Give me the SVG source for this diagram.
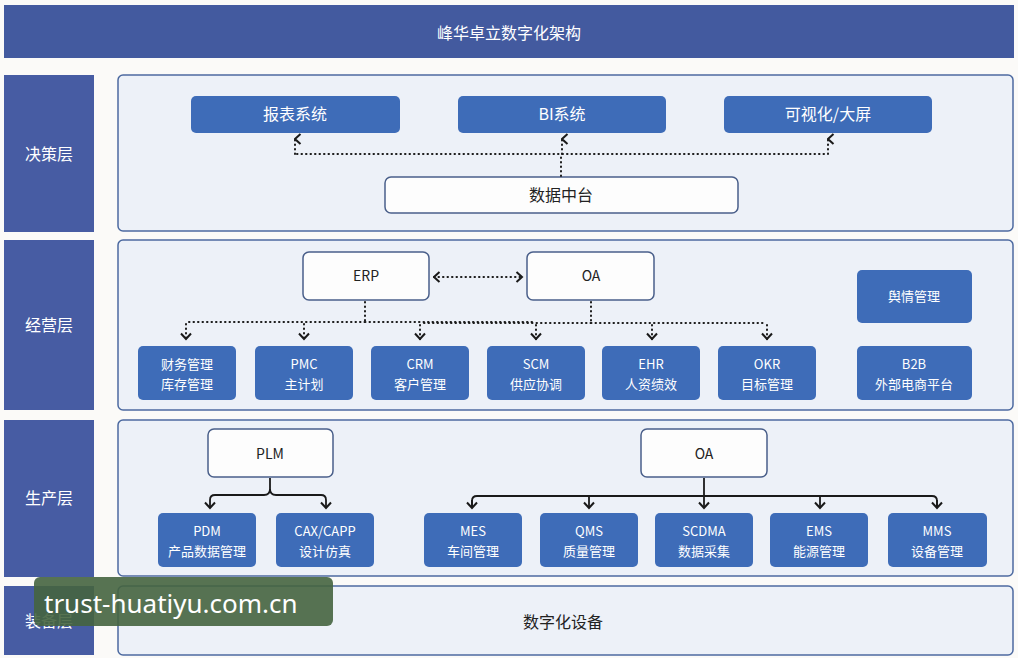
<svg xmlns="http://www.w3.org/2000/svg" width="1018" height="658" viewBox="0 0 1018 658">
<defs>
<style>
.t{font-family:"Noto Sans CJK SC","Noto Sans",sans-serif;}
.title{fill:#fff;font-size:16px;}
.lab{fill:#fff;font-size:16px;}
.panel{fill:#edf1f8;stroke:#4d6aa0;stroke-width:1.5;}
.side{fill:#475ca3;}
.btn{fill:#3e6cb8;}
.btxt{fill:#fff;font-size:16px;}
.sub{fill:#fff;font-size:13px;}
.wbox{fill:#fdfdfd;stroke:#4a5f8a;stroke-width:1.5;}
.wtxt{fill:#222;font-size:14px;}
.dot{fill:none;stroke:#1a1a1a;stroke-width:2;stroke-dasharray:0.5 4;stroke-linecap:round;}
.sol{fill:none;stroke:#1a1a1a;stroke-width:1.8;}
</style>
<marker id="ah" viewBox="0 0 12 10" refX="6" refY="1.5" markerWidth="12" markerHeight="10" markerUnits="userSpaceOnUse" orient="auto-start-reverse">
<path d="M1,7 L6,1.5 L11,7" fill="none" stroke="#1a1a1a" stroke-width="2"/>
</marker>
<marker id="ad" viewBox="0 0 12 10" refX="6" refY="8.5" markerWidth="12" markerHeight="10" markerUnits="userSpaceOnUse" orient="0">
<path d="M1,3 L6,8.5 L11,3" fill="none" stroke="#1a1a1a" stroke-width="2"/>
</marker>
<marker id="al" viewBox="0 0 10 12" refX="1.5" refY="6" markerWidth="10" markerHeight="12" markerUnits="userSpaceOnUse" orient="0">
<path d="M7,1 L1.5,6 L7,11" fill="none" stroke="#1a1a1a" stroke-width="2"/>
</marker>
<marker id="ar" viewBox="0 0 10 12" refX="8.5" refY="6" markerWidth="10" markerHeight="12" markerUnits="userSpaceOnUse" orient="0">
<path d="M3,1 L8.5,6 L3,11" fill="none" stroke="#1a1a1a" stroke-width="2"/>
</marker>
</defs>
<rect width="1018" height="658" fill="#fbfaf8"/>

<g id="title">
<rect x="4" y="5" width="1010" height="53" fill="#435a9f"/>
<text class="t title" x="509" y="39" text-anchor="middle">峰华卓立数字化架构</text>
</g>

<g id="layer-decision">
<rect class="side" x="4" y="75" width="90" height="157"/>
<text class="t lab" x="49" y="160" text-anchor="middle">决策层</text>
<rect class="panel" x="118" y="75" width="895" height="156" rx="5"/>
</g>
<g id="layer-business">
<rect class="side" x="4" y="240" width="90" height="170"/>
<text class="t lab" x="49" y="331" text-anchor="middle">经营层</text>
<rect class="panel" x="118" y="240" width="895" height="170" rx="5"/>
</g>
<g id="layer-production">
<rect class="side" x="4" y="420" width="90" height="157"/>
<text class="t lab" x="49" y="504" text-anchor="middle">生产层</text>
<rect class="panel" x="118" y="420" width="895" height="156" rx="5"/>
</g>
<g id="layer-equipment">
<rect class="side" x="4" y="586" width="90" height="69"/>
<text class="t lab" x="49" y="627" text-anchor="middle">装备层</text>
<rect class="panel" x="118" y="586" width="895" height="69" rx="5"/>
<text class="t" x="563" y="628" text-anchor="middle" font-size="16" fill="#222">数字化设备</text>
</g>

<g id="n-report"><rect class="btn" x="191" y="96" width="209" height="37" rx="5"/><text class="t btxt" x="295" y="120" text-anchor="middle">报表系统</text></g>
<g id="n-bi"><rect class="btn" x="458" y="96" width="208" height="37" rx="5"/><text class="t btxt" x="562" y="120" text-anchor="middle">BI系统</text></g>
<g id="n-vis"><rect class="btn" x="724" y="96" width="208" height="37" rx="5"/><text class="t btxt" x="828" y="120" text-anchor="middle">可视化/大屏</text></g>
<g id="n-datahub"><rect class="wbox" x="385" y="177" width="353" height="36" rx="6"/><text class="t" x="561" y="201" text-anchor="middle" font-size="16" fill="#222">数据中台</text></g>

<g id="n-erp"><rect class="wbox" x="303" y="252" width="126" height="48" rx="6"/><text class="t wtxt" x="366" y="281" text-anchor="middle">ERP</text></g>
<g id="n-oa1"><rect class="wbox" x="527" y="252" width="127" height="48" rx="6"/><text class="t wtxt" x="591" y="281" text-anchor="middle">OA</text></g>
<g id="n-yq"><rect class="btn" x="857" y="270" width="115" height="53" rx="5"/><text class="t sub" x="914" y="301" text-anchor="middle">舆情管理</text></g>
<g id="n-cw"><rect class="btn" x="138" y="346" width="98" height="54" rx="5"/><text class="t sub" x="187" y="369" text-anchor="middle">财务管理</text><text class="t sub" x="187" y="389" text-anchor="middle">库存管理</text></g>
<g id="n-pmc"><rect class="btn" x="255" y="346" width="98" height="54" rx="5"/><text class="t sub" x="304" y="369" text-anchor="middle">PMC</text><text class="t sub" x="304" y="389" text-anchor="middle">主计划</text></g>
<g id="n-crm"><rect class="btn" x="371" y="346" width="98" height="54" rx="5"/><text class="t sub" x="420" y="369" text-anchor="middle">CRM</text><text class="t sub" x="420" y="389" text-anchor="middle">客户管理</text></g>
<g id="n-scm"><rect class="btn" x="487" y="346" width="98" height="54" rx="5"/><text class="t sub" x="536" y="369" text-anchor="middle">SCM</text><text class="t sub" x="536" y="389" text-anchor="middle">供应协调</text></g>
<g id="n-ehr"><rect class="btn" x="602" y="346" width="98" height="54" rx="5"/><text class="t sub" x="651" y="369" text-anchor="middle">EHR</text><text class="t sub" x="651" y="389" text-anchor="middle">人资绩效</text></g>
<g id="n-okr"><rect class="btn" x="718" y="346" width="98" height="54" rx="5"/><text class="t sub" x="767" y="369" text-anchor="middle">OKR</text><text class="t sub" x="767" y="389" text-anchor="middle">目标管理</text></g>
<g id="n-b2b"><rect class="btn" x="857" y="346" width="115" height="54" rx="5"/><text class="t sub" x="914" y="369" text-anchor="middle">B2B</text><text class="t sub" x="914" y="389" text-anchor="middle">外部电商平台</text></g>

<g id="n-plm"><rect class="wbox" x="208" y="429" width="125" height="48" rx="6"/><text class="t wtxt" x="270" y="459" text-anchor="middle">PLM</text></g>
<g id="n-oa2"><rect class="wbox" x="641" y="429" width="126" height="48" rx="6"/><text class="t wtxt" x="704" y="459" text-anchor="middle">OA</text></g>
<g id="n-pdm"><rect class="btn" x="158" y="513" width="98" height="54" rx="5"/><text class="t sub" x="207" y="536" text-anchor="middle">PDM</text><text class="t sub" x="207" y="556" text-anchor="middle">产品数据管理</text></g>
<g id="n-cax"><rect class="btn" x="276" y="513" width="98" height="54" rx="5"/><text class="t sub" x="325" y="536" text-anchor="middle">CAX/CAPP</text><text class="t sub" x="325" y="556" text-anchor="middle">设计仿真</text></g>
<g id="n-mes"><rect class="btn" x="424" y="513" width="98" height="54" rx="5"/><text class="t sub" x="473" y="536" text-anchor="middle">MES</text><text class="t sub" x="473" y="556" text-anchor="middle">车间管理</text></g>
<g id="n-qms"><rect class="btn" x="540" y="513" width="98" height="54" rx="5"/><text class="t sub" x="589" y="536" text-anchor="middle">QMS</text><text class="t sub" x="589" y="556" text-anchor="middle">质量管理</text></g>
<g id="n-scdma"><rect class="btn" x="655" y="513" width="98" height="54" rx="5"/><text class="t sub" x="704" y="536" text-anchor="middle">SCDMA</text><text class="t sub" x="704" y="556" text-anchor="middle">数据采集</text></g>
<g id="n-ems"><rect class="btn" x="770" y="513" width="98" height="54" rx="5"/><text class="t sub" x="819" y="536" text-anchor="middle">EMS</text><text class="t sub" x="819" y="556" text-anchor="middle">能源管理</text></g>
<g id="n-mms"><rect class="btn" x="888" y="513" width="99" height="54" rx="5"/><text class="t sub" x="937" y="536" text-anchor="middle">MMS</text><text class="t sub" x="937" y="556" text-anchor="middle">设备管理</text></g>

<g id="connectors">
<path class="dot" d="M561,176 V155"/>
<path class="dot" d="M297,154 H826" />
<path class="dot" d="M295,154 V139" marker-end="url(#ah)"/>
<path class="dot" d="M562,154 V139" marker-end="url(#ah)"/>
<path class="dot" d="M828,154 V139" marker-end="url(#ah)"/>

<path class="dot" d="M434,277 H522" marker-start="url(#al)" marker-end="url(#ar)"/>

<path class="dot" d="M365,302 V321 M365,322 H188 M365,322 H536"/>
<path class="dot" d="M186,324 V339" marker-end="url(#ad)"/>
<path class="dot" d="M304,324 V339" marker-end="url(#ad)"/>
<path class="dot" d="M591,302 V321 M591,323 H420 M591,323 H765"/>
<path class="dot" d="M420,325 V339" marker-end="url(#ad)"/>
<path class="dot" d="M536,325 V339" marker-end="url(#ad)"/>
<path class="dot" d="M652,325 V339" marker-end="url(#ad)"/>
<path class="dot" d="M767,325 V339" marker-end="url(#ad)"/>

<path class="sol" d="M270,478 V489 Q270,495 264,495 H215 Q210,495 210,500 V508" marker-end="url(#ad)"/>
<path class="sol" d="M270,489 Q270,495 276,495 H321 Q326,495 326,500 V508" marker-end="url(#ad)"/>
<path class="sol" d="M704,478 V508" marker-end="url(#ad)"/>
<path class="sol" d="M477,496 H932 M477,496 Q472,496 472,501 V508 M932,496 Q937,496 937,501 V508" />
<path class="sol" d="M472,500 V508" marker-end="url(#ad)"/>
<path class="sol" d="M589,496 V508" marker-end="url(#ad)"/>
<path class="sol" d="M820,496 V508" marker-end="url(#ad)"/>
<path class="sol" d="M937,500 V508" marker-end="url(#ad)"/>
</g>

<g id="watermark">
<rect x="34" y="577" width="299" height="49" rx="6" fill="#45643f" fill-opacity="0.9"/>
<text x="44" y="613" font-family="Noto Sans, sans-serif" font-size="26" fill="#fff">trust-huatiyu.com.cn</text>
</g>
</svg>
